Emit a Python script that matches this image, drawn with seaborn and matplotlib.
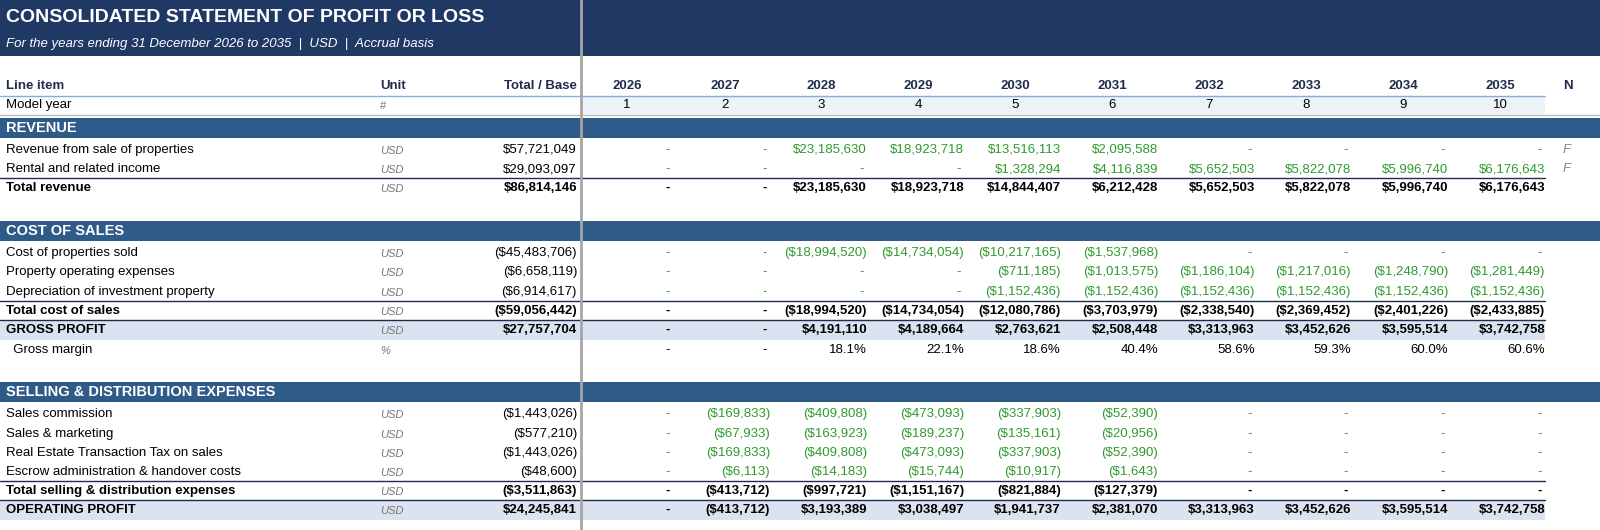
import matplotlib
matplotlib.use("Agg")
import matplotlib.pyplot as plt
import seaborn as sns

sns.set_theme(style="white")
plt.rcParams["font.family"] = ["Liberation Sans", "DejaVu Sans"]

years = [2026, 2027, 2028, 2029, 2030, 2031, 2032, 2033, 2034, 2035]
model_year = [1, 2, 3, 4, 5, 6, 7, 8, 9, 10]

# (kind, label, unit, total, values)
rows = [
    ("section", "REVENUE", "", "", []),
    ("item", "Revenue from sale of properties", "USD", "$57,721,049",
     ["-", "-", "$23,185,630", "$18,923,718", "$13,516,113", "$2,095,588", "-", "-", "-", "-"]),
    ("item", "Rental and related income", "USD", "$29,093,097",
     ["-", "-", "-", "-", "$1,328,294", "$4,116,839", "$5,652,503", "$5,822,078", "$5,996,740", "$6,176,643"]),
    ("total", "Total revenue", "USD", "$86,814,146",
     ["-", "-", "$23,185,630", "$18,923,718", "$14,844,407", "$6,212,428", "$5,652,503", "$5,822,078", "$5,996,740", "$6,176,643"]),
    ("section", "COST OF SALES", "", "", []),
    ("item", "Cost of properties sold", "USD", "($45,483,706)",
     ["-", "-", "($18,994,520)", "($14,734,054)", "($10,217,165)", "($1,537,968)", "-", "-", "-", "-"]),
    ("item", "Property operating expenses", "USD", "($6,658,119)",
     ["-", "-", "-", "-", "($711,185)", "($1,013,575)", "($1,186,104)", "($1,217,016)", "($1,248,790)", "($1,281,449)"]),
    ("item", "Depreciation of investment property", "USD", "($6,914,617)",
     ["-", "-", "-", "-", "($1,152,436)", "($1,152,436)", "($1,152,436)", "($1,152,436)", "($1,152,436)", "($1,152,436)"]),
    ("total", "Total cost of sales", "USD", "($59,056,442)",
     ["-", "-", "($18,994,520)", "($14,734,054)", "($12,080,786)", "($3,703,979)", "($2,338,540)", "($2,369,452)", "($2,401,226)", "($2,433,885)"]),
    ("key", "GROSS PROFIT", "USD", "$27,757,704",
     ["-", "-", "$4,191,110", "$4,189,664", "$2,763,621", "$2,508,448", "$3,313,963", "$3,452,626", "$3,595,514", "$3,742,758"]),
    ("pct", "  Gross margin", "%", "",
     ["-", "-", "18.1%", "22.1%", "18.6%", "40.4%", "58.6%", "59.3%", "60.0%", "60.6%"]),
    ("section", "SELLING & DISTRIBUTION EXPENSES", "", "", []),
    ("item", "Sales commission", "USD", "($1,443,026)",
     ["-", "($169,833)", "($409,808)", "($473,093)", "($337,903)", "($52,390)", "-", "-", "-", "-"]),
    ("item", "Sales & marketing", "USD", "($577,210)",
     ["-", "($67,933)", "($163,923)", "($189,237)", "($135,161)", "($20,956)", "-", "-", "-", "-"]),
    ("item", "Real Estate Transaction Tax on sales", "USD", "($1,443,026)",
     ["-", "($169,833)", "($409,808)", "($473,093)", "($337,903)", "($52,390)", "-", "-", "-", "-"]),
    ("item", "Escrow administration & handover costs", "USD", "($48,600)",
     ["-", "($6,113)", "($14,183)", "($15,744)", "($10,917)", "($1,643)", "-", "-", "-", "-"]),
    ("total", "Total selling & distribution expenses", "USD", "($3,511,863)",
     ["-", "($413,712)", "($997,721)", "($1,151,167)", "($821,884)", "($127,379)", "-", "-", "-", "-"]),
    ("key", "OPERATING PROFIT", "USD", "$24,245,841",
     ["-", "($413,712)", "$3,193,389", "$3,038,497", "$1,941,737", "$2,381,070", "$3,313,963", "$3,452,626", "$3,595,514", "$3,742,758"]),
]

# layout (pixels)
row_y = [128, 150, 169, 188, 231, 253, 272, 292, 311, 330, 350, 392, 414, 434, 453, 472, 491, 510]
rh = 19.4
col_right = [673, 770, 867, 964, 1061, 1158, 1255, 1351, 1448, 1545]
col_center = [627, 725, 821, 918, 1015, 1112, 1209, 1306, 1403, 1500]

NAVY = "#203864"
BAND = "#2F5B88"
LIGHT = "#DCE3F0"
PALE = "#EDF1F8"
GREEN = "#2E9A2E"

fig = plt.figure(figsize=(16, 5.3), dpi=100)
ax = fig.add_axes([0, 0, 1, 1])
ax.set_xlim(0, 1600)
ax.set_ylim(530, 0)
ax.axis("off")

# title band
ax.add_patch(plt.Rectangle((0, 0), 1600, 56, color=NAVY, lw=0))
ax.text(6, 18, "CONSOLIDATED STATEMENT OF PROFIT OR LOSS", color="white",
        fontsize=14, fontweight="bold", va="center")
ax.text(6, 44, "For the years ending 31 December 2026 to 2035  |  USD  |  Accrual basis",
        color="white", fontsize=9.5, style="italic", va="center")

# header
fs = 9.5
ax.text(6, 86, "Line item", fontsize=fs, fontweight="bold", color="#1F2D4D", va="center")
ax.text(380, 86, "Unit", fontsize=fs, fontweight="bold", color="#1F2D4D", va="center")
ax.text(577, 86, "Total / Base", fontsize=fs, fontweight="bold", color="#1F2D4D", va="center", ha="right")
for yr, xc in zip(years, col_center):
    ax.text(xc, 86, str(yr), fontsize=fs, fontweight="bold", color="#1F2D4D", va="center", ha="center")
ax.text(1563, 86, "N", fontsize=fs, fontweight="bold", color="#1F2D4D", va="center")
ax.plot([0, 1545], [95.5, 95.5], color="#8EA9DB", lw=1)
ax.add_patch(plt.Rectangle((583, 96), 962, 18, color=PALE, lw=0))
ax.text(6, 105, "Model year", fontsize=fs, va="center", color="black")
ax.text(380, 106, "#", fontsize=8, color="#777777", va="center")
for m, xc in zip(model_year, col_center):
    ax.text(xc, 105, str(m), fontsize=fs, va="center", ha="center", color="black")
ax.plot([0, 1600], [114.5, 114.5], color="#BBBBBB", lw=1)

for (kind, label, unit, total, vals), y in zip(rows, row_y):
    top = y - rh / 2
    if kind == "section":
        ax.add_patch(plt.Rectangle((0, top), 1600, rh, color=BAND, lw=0))
        ax.text(6, y, label, color="white", fontsize=10.5, fontweight="bold", va="center")
        continue
    bold = kind in ("total", "key")
    if kind == "key":
        ax.add_patch(plt.Rectangle((0, top), 1545, rh, color=LIGHT, lw=0))
    if bold:
        ax.plot([0, 1545], [top, top], color="#1F2D4D", lw=1)
    fw = "bold" if bold else "normal"
    ax.text(6, y, label, fontsize=fs, fontweight=fw, va="center", color="black")
    ax.text(380, y + 1, unit, fontsize=8, style="italic", color="#777777", va="center")
    if total:
        ax.text(577, y, total, fontsize=fs, fontweight=fw, va="center", ha="right", color="black")
    vcol = GREEN if kind == "item" else "black"
    for v, xr in zip(vals, col_right):
        ax.text(xr - (3 if v == "-" else 0), y, v, fontsize=fs, fontweight=fw,
                va="center", ha="right", color=vcol)
    if kind == "item" and label.startswith(("Revenue", "Rental")):
        ax.text(1563, y, "F", fontsize=fs, style="italic", color="#888888", va="center")

# frozen-pane divider
ax.plot([580.5, 580.5], [0, 530], color="#A6A6A6", lw=2)

fig.savefig("out.png", dpi=100)
